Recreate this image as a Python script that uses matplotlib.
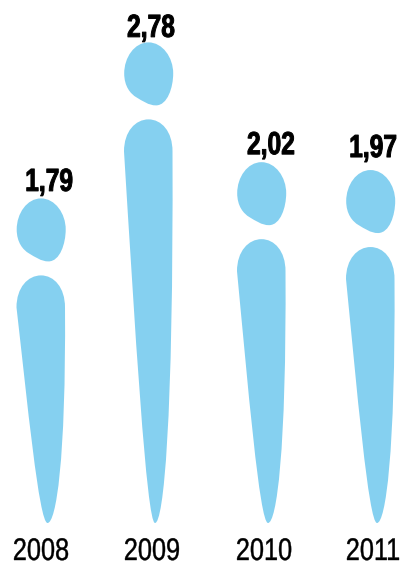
import matplotlib
matplotlib.use("Agg")
import matplotlib.pyplot as plt
from matplotlib.patches import PathPatch
from matplotlib.patheffects import AbstractPathEffect
from matplotlib.path import Path
from matplotlib.transforms import Affine2D

# Chart data
years = ["2008", "2009", "2010", "2011"]
values = [1.79, 2.78, 2.02, 1.97]
value_labels = ["1,79", "2,78", "2,02", "1,97"]

# Layout, in figure pixels
FIG_W = 403
FIG_H = 561
PX_PER_UNIT = 157.6
TIP_VALUE = 0.219  # the figure's foot sits here on the value scale
TIP_PIXEL = 523
COLOR = "#85D0F0"
FONT = ["Liberation Sans", "DejaVu Sans"]
centers = [41, 148.5, 261.5, 370.5]
year_x = [41, 152, 264, 373]
label_dx = [8, 2.5, 9.5, 2.5]
label_gap = [7.5, 5.5, 8, 13]


# No condensed font is installed, so squeeze the glyphs around their centre
# and thicken them a little with a stroke
class Squeeze(AbstractPathEffect):

    def __init__(self, factor, stroke):
        super().__init__()
        self.factor = factor
        self.stroke = stroke

    def draw_path(self, renderer, gc, tpath, affine, rgbFace=None):
        ext = tpath.get_extents()
        mid = (ext.x0 + ext.x1) / 2
        squeeze = Affine2D().translate(-mid, 0).scale(self.factor, 1).translate(mid, 0)
        gc0 = renderer.new_gc()
        gc0.copy_properties(gc)
        gc0.set_foreground("black")
        gc0.set_linewidth(self.stroke)
        renderer.draw_path(gc0, tpath, squeeze + affine, rgbFace)
        gc0.restore()


def to_units(px):
    return px / PX_PER_UNIT


# Head outline has a fixed size, placed above the top of the body
def head_path(cx, value):
    pts = [(0, 77),
           (14, 77), (24.7, 62), (24.7, 46),
           (24.7, 32), (19, 14), (7.5, 14),
           (0, 14), (-6, 18.5), (-12, 22),
           (-18, 25.5), (-24.3, 33), (-24.3, 46),
           (-24.3, 62), (-14, 77), (0, 77),
           (0, 77)]
    verts = [(cx + x, value + to_units(y)) for x, y in pts]
    codes = [Path.MOVETO] + [Path.CURVE4] * 15 + [Path.CLOSEPOLY]
    return Path(verts, codes)


# Body: round top of fixed size, the taper stretches with the value
def body_path(cx, value):
    def low(dx, frac):
        return (cx + dx, TIP_VALUE + (1 - frac) * (value - TIP_VALUE))

    def top(dx, px):
        return (cx + dx, value - to_units(px))

    verts = [low(6.5, 1),
             low(-2, 1), low(-14, 0.5), top(-24.5, 32),
             top(-24.5, 12), top(-13, 0), top(0, 0),
             top(13, 0), top(24, 12), top(24, 32),
             low(25, 0.75), low(15, 1), low(6.5, 1),
             low(6.5, 1)]
    codes = [Path.MOVETO] + [Path.CURVE4] * 12 + [Path.CLOSEPOLY]
    return Path(verts, codes)


def main():
    fig = plt.figure(figsize=(FIG_W / 100, FIG_H / 100), dpi=100)
    ax = fig.add_axes([0, 0, 1, 1])
    ax.set_xlim(0, FIG_W)
    ax.set_ylim(TIP_VALUE - (FIG_H - TIP_PIXEL) / PX_PER_UNIT,
                TIP_VALUE + TIP_PIXEL / PX_PER_UNIT)
    ax.axis("off")

    for i, value in enumerate(values):
        ax.add_patch(PathPatch(body_path(centers[i], value), fc=COLOR, ec="none"))
        ax.add_patch(PathPatch(head_path(centers[i], value), fc=COLOR, ec="none"))

        ax.text(centers[i] + label_dx[i], value + to_units(77 + label_gap[i]),
                value_labels[i], ha="center", va="baseline", family=FONT,
                fontweight="bold", fontsize=23, color="black",
                path_effects=[Squeeze(0.77, 0.7)])
        ax.text(year_x[i], TIP_VALUE - to_units(37), years[i], ha="center",
                va="baseline", family=FONT, fontsize=22.5, color="black",
                path_effects=[Squeeze(0.81, 0.3)])

    fig.savefig("out.png", dpi=100)


if __name__ == "__main__":
    main()
